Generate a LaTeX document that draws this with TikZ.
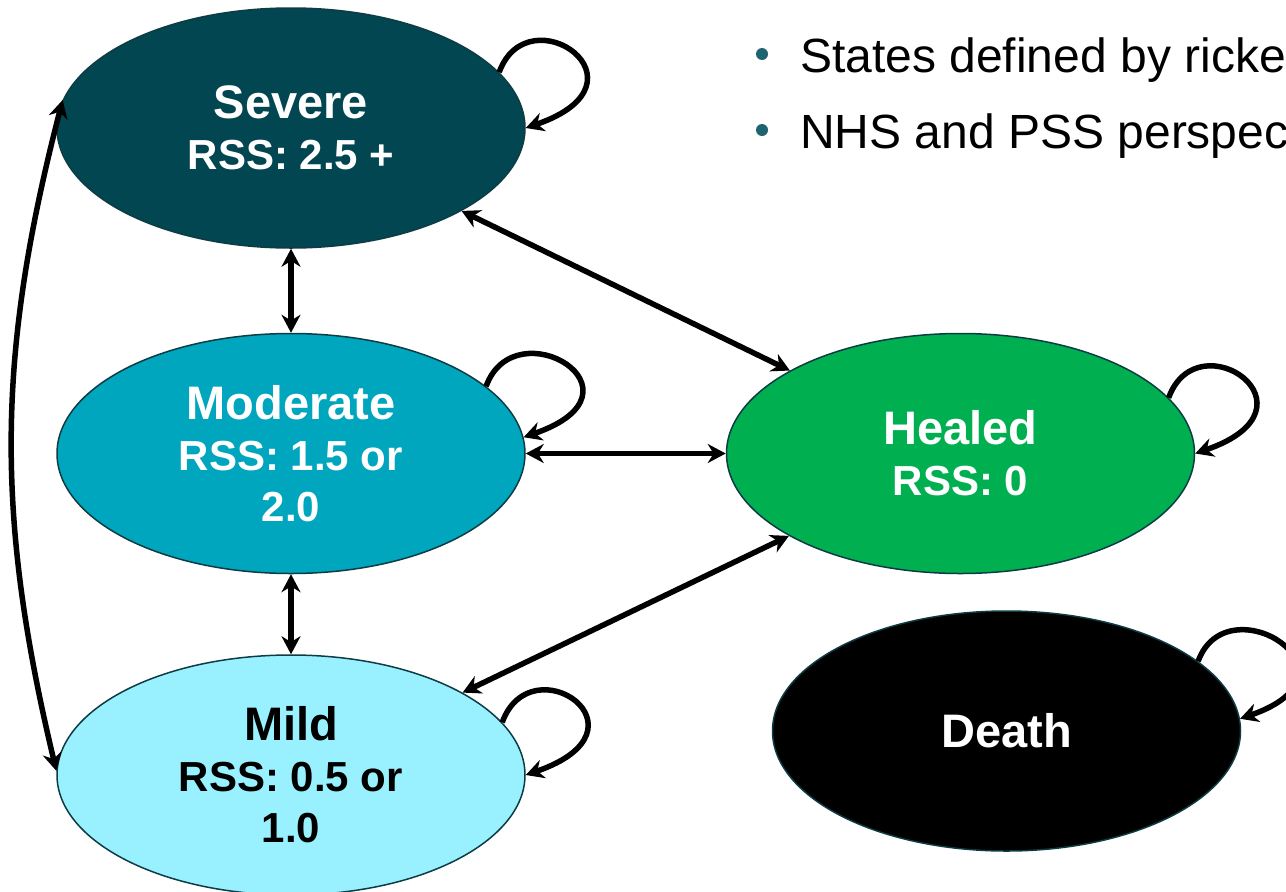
\documentclass[tikz,border=0pt]{standalone}
\usepackage{fontspec}
\setmainfont{Liberation Sans}
\usetikzlibrary{arrows.meta,positioning,shapes.geometric}
\definecolor{sevcol}{RGB}{2,70,82}
\definecolor{modcol}{RGB}{0,166,190}
\definecolor{mildcol}{RGB}{153,241,255}
\definecolor{healcol}{RGB}{0,176,80}
\definecolor{rim}{RGB}{14,60,68}
\definecolor{bulcol}{RGB}{30,100,112}
\newcommand{\stname}[1]{{\fontsize{47}{51}\selectfont #1}}
\tikzset{
  state/.style    = {ellipse, draw=rim, line width=1.5pt, align=center,
                     font=\bfseries\fontsize{42}{51}\selectfont, text=white,
                     minimum width=468pt, minimum height=240pt, inner sep=0pt},
  flow/.style     = {{Stealth[length=18pt,width=19pt]}-{Stealth[length=18pt,width=19pt]},
                     line width=5.5pt},
  selfloop/.style = {-{Stealth[length=18pt,width=19pt]}, line width=5.5pt,
                     out=70, in=19, out distance=85pt, in distance=140pt},
  bullet/.style   = {circle, fill=bulcol, inner sep=0pt, minimum size=12pt},
  point/.style    = {anchor=base west, inner sep=0pt,
                     font=\fontsize{48}{53}\selectfont},
}

\begin{document}
\begin{tikzpicture}[node distance=84pt and 200pt]
    \useasboundingbox (0,0) rectangle (1286pt,-892pt);
    \clip (0,0) rectangle (1286pt,-892pt);

    \node[state, fill=sevcol] (sev) at (291pt,-128pt) {\stname{Severe}\\RSS: 2.5 +};
    \node[state, fill=modcol, below=of sev] (mod) {\stname{Moderate}\\RSS: 1.5 or\\2.0};
    \node[state, fill=mildcol, text=black, below=80pt of mod] (mild) {\stname{Mild}\\RSS: 0.5 or\\1.0};
    \node[state, fill=healcol, right=of mod] (hea) {\stname{Healed}\\RSS: 0};
    \node[state, fill=black, below=36pt of hea, xshift=46pt] (dea) {\stname{Death}};

    % bullet points
    \node[bullet] (b1) at (762pt,-54pt) {};
    \node[point] (t1) at (800pt,-72pt) {States defined by ricke};
    \node[bullet] (b2) at (762pt,-130pt) {};
    \node[point] (t2) at (800pt,-148pt) {NHS and PSS perspec};

    % transitions
    \draw[flow] (sev) -- (mod);
    \draw[flow] (mod) -- (mild);
    \draw[flow] (sev) -- (hea);
    \draw[flow] (mod) -- (hea);
    \draw[flow] (mild) -- (hea);
    \draw[flow] (sev.173) to[bend right=14] (mild.179);

    % staying in the same state
    \draw[selfloop] (sev.15) to (sev.east);
    \draw[selfloop] (mod.19) to (mod.4);
    \draw[selfloop] (mild.14) to (mild.east);
    \draw[selfloop] (hea.15) to (hea.east);
    \draw[selfloop] (dea.20) to (dea.3);
\end{tikzpicture}
\end{document}
